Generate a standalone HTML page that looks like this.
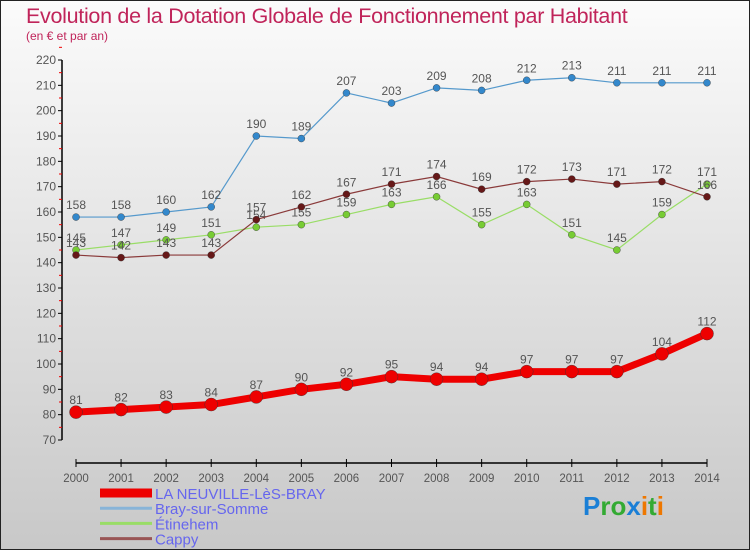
<!DOCTYPE html>
<html><head><meta charset="utf-8"><style>
body{margin:0;}
#wrap{width:750px;height:550px;position:relative;box-sizing:border-box;border:1px solid #222;background:linear-gradient(#fbfbfb,#c8c8c8);font-family:"Liberation Sans",sans-serif;overflow:hidden}
#title{position:absolute;left:25px;top:3px;font-size:21.5px;color:#c0245a;letter-spacing:-0.3px}
#sub{position:absolute;left:25px;top:28px;font-size:12px;color:#c0245a}
</style></head><body>
<div id="wrap">
<div id="title">Evolution de la Dotation Globale de Fonctionnement par Habitant</div>
<div id="sub">(en € et par an)</div>
<svg id="svg" width="750" height="550" style="position:absolute;left:-1px;top:-1px"></svg>
</div>
<script>
const years=[2000,2001,2002,2003,2004,2005,2006,2007,2008,2009,2010,2011,2012,2013,2014];
const yTicks=[70,80,90,100,110,120,130,140,150,160,170,180,190,200,210,220];
const neuville=[81,82,83,84,87,90,92,95,94,94,97,97,97,104,112];
const bray=[158,158,160,162,190,189,207,203,209,208,212,213,211,211,211];
const etinehem=[145,147,149,151,154,155,159,163,166,155,163,151,145,159,171];
const cappy=[143,142,143,143,157,162,167,171,174,169,172,173,171,172,166];
const seriesNames=["LA NEUVILLE-LèS-BRAY","Bray-sur-Somme","Étinehem","Cappy"];
const NS="http://www.w3.org/2000/svg";
const svg=document.getElementById('svg');
function X(i){return 76+i*(707-76)/(years.length-1);}
function Y(v){return 60+(220-v)*(380/150);}
function el(t,a,p){const e=document.createElementNS(NS,t);for(const k in a)e.setAttribute(k,a[k]);(p||svg).appendChild(e);return e;}
let ya=el('line',{x1:62,y1:60,x2:62,y2:440,stroke:'#000','stroke-width':1.5});

yTicks.forEach(v=>{
  el('line',{x1:58,y1:Y(v),x2:62,y2:Y(v),stroke:'#000'});
  el('line',{x1:59,y1:Y(v+5),x2:62,y2:Y(v+5),stroke:'#e00'});
  const t=el('text',{x:56,y:Y(v)+4,'text-anchor':'end','font-size':12,fill:'#555'});t.textContent=v;
  
});
let xa=el('line',{x1:76,y1:463,x2:707,y2:463,stroke:'#000','stroke-width':1.5});

years.forEach((y,i)=>{
  el('line',{x1:X(i),y1:459,x2:X(i),y2:467,stroke:'#000'});
  const t=el('text',{x:X(i),y:482,'text-anchor':'middle','font-size':11.5,fill:'#555'});t.textContent=y;
  
});
function series(data,color,dot,w,r,name,fs){
  const g=el('g',{});
  el('polyline',{points:data.map((v,i)=>X(i)+','+Y(v)).join(' '),fill:'none',stroke:color,'stroke-width':w},g);
  data.forEach((v,i)=>{
    const c=el('circle',{cx:X(i),cy:Y(v),r:r,fill:dot,stroke:'#333','stroke-width':0.4},g);
    
    const t=el('text',{x:X(i),y:Y(v)-8,'text-anchor':'middle','font-size':fs,fill:'#555'},g);t.textContent=v;
  });
}
series(etinehem,'#99dd66','#77cc33',1.2,3.5,'series-etinehem',12);
series(cappy,'#8a3a3a','#661818',1.2,3.5,'series-cappy',12);
series(bray,'#5599cc','#3388cc',1.2,3.5,'series-bray',12);
series(neuville,'#ee0000','#ee0000',7,6.5,'series-neuville',12);
const lc=['#ee0000','#88b4d8','#99dd66','#995555'],lw=[9,3,3,3];
seriesNames.forEach((n,i)=>{
  const yy=493+i*15.2;
  const g=el('g',{});
  el('line',{x1:100,y1:yy,x2:152,y2:yy,stroke:lc[i],'stroke-width':lw[i]},g);
  const t=el('text',{x:155,y:yy+6,'font-size':15,fill:'#6666ee'},g);t.textContent=n;
});
const lg=el('text',{x:583,y:515,'font-size':26,'font-weight':'bold'});

[['P','#1a7fd6'],['ro','#33aa33'],['x','#1a7fd6'],['i','#ee7700'],['t','#33aa33'],['i','#ee7700']].forEach(p=>{const s=el('tspan',{fill:p[1]},lg);s.textContent=p[0];});
</script>
</body></html>
